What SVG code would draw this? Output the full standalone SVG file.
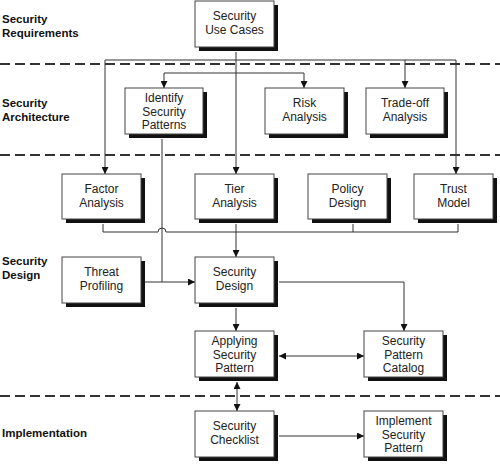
<svg xmlns="http://www.w3.org/2000/svg" width="500" height="464" viewBox="0 0 500 464">
<defs>
<style>
.sh{fill:#111}
.bx{fill:#fff;stroke:#444;stroke-width:1}
.t{font-family:"Liberation Sans",Arial,sans-serif;font-size:12px;fill:#222;text-anchor:middle}
.lb{font-family:"Liberation Sans",Arial,sans-serif;font-size:11.5px;font-weight:bold;fill:#111}
.dash{stroke:#333;stroke-width:2;stroke-dasharray:10 5;fill:none}
.c{stroke:#333;stroke-width:1;fill:none}
</style>
<marker id="a" viewBox="0 0 10 10" refX="10" refY="5" markerWidth="8" markerHeight="7" markerUnits="userSpaceOnUse" orient="auto-start-reverse">
<path d="M0,0 L10,5 L0,10 z" fill="#111"/>
</marker>
</defs>
<rect width="500" height="464" fill="#fff"/>
<g id="lanes">
<line class="dash" x1="0" y1="64" x2="500" y2="64"/>
<line class="dash" x1="0" y1="155" x2="500" y2="155"/>
<line class="dash" x1="0" y1="396" x2="500" y2="396"/>
<text class="lb" x="2" y="23">Security</text>
<text class="lb" x="2" y="37">Requirements</text>
<text class="lb" x="2" y="107">Security</text>
<text class="lb" x="2" y="121">Architecture</text>
<text class="lb" x="2" y="265">Security</text>
<text class="lb" x="2" y="279">Design</text>
<text class="lb" x="2" y="437">Implementation</text>
</g>
<g id="connectors">
<path class="c" d="M236,52 V174" marker-end="url(#a)"/>
<path class="c" d="M105,174 V60 H456 V174" marker-start="url(#a)" marker-end="url(#a)"/>
<path class="c" d="M405,60 V88" marker-end="url(#a)"/>
<path class="c" d="M164,88 V73 H304 V88" marker-start="url(#a)" marker-end="url(#a)"/>
<path class="c" d="M162,139 V282"/>
<path class="c" d="M145,282 H195" marker-end="url(#a)"/>
<path class="c" d="M103,224 V232 H158 A4,4 0 0 1 166,232 H458 V224"/>
<path class="c" d="M353,224 V232"/>
<path class="c" d="M236,224 V257" marker-end="url(#a)"/>
<path class="c" d="M279,282 H404 V331" marker-end="url(#a)"/>
<path class="c" d="M236,308 V331" marker-end="url(#a)"/>
<path class="c" d="M279,356 H364" marker-start="url(#a)" marker-end="url(#a)"/>
<path class="c" d="M237,382 V411" marker-start="url(#a)" marker-end="url(#a)"/>
<path class="c" d="M279,436 H364" marker-end="url(#a)"/>
</g>
<g id="n-usecases"><rect class="sh" x="199" y="5" width="79" height="46"/><rect class="bx" x="195" y="1" width="79" height="46"/><text class="t" x="234.5" y="20">Security</text><text class="t" x="234.5" y="34">Use Cases</text></g>
<g id="n-identify"><rect class="sh" x="129" y="92" width="78" height="46"/><rect class="bx" x="125" y="88" width="78" height="46"/><text class="t" x="164" y="102">Identify</text><text class="t" x="164" y="115.5">Security</text><text class="t" x="164" y="129">Patterns</text></g>
<g id="n-risk"><rect class="sh" x="269" y="92" width="79" height="46"/><rect class="bx" x="265" y="88" width="79" height="46"/><text class="t" x="304.5" y="107">Risk</text><text class="t" x="304.5" y="121">Analysis</text></g>
<g id="n-tradeoff"><rect class="sh" x="370" y="92" width="78" height="46"/><rect class="bx" x="366" y="88" width="78" height="46"/><text class="t" x="405" y="107">Trade-off</text><text class="t" x="405" y="121">Analysis</text></g>
<g id="n-factor"><rect class="sh" x="66" y="178" width="79" height="45"/><rect class="bx" x="62" y="174" width="79" height="45"/><text class="t" x="101.5" y="193">Factor</text><text class="t" x="101.5" y="207">Analysis</text></g>
<g id="n-tier"><rect class="sh" x="199" y="178" width="79" height="45"/><rect class="bx" x="195" y="174" width="79" height="45"/><text class="t" x="234.5" y="193">Tier</text><text class="t" x="234.5" y="207">Analysis</text></g>
<g id="n-policy"><rect class="sh" x="312" y="178" width="79" height="45"/><rect class="bx" x="308" y="174" width="79" height="45"/><text class="t" x="347.5" y="193">Policy</text><text class="t" x="347.5" y="207">Design</text></g>
<g id="n-trust"><rect class="sh" x="418" y="178" width="79" height="45"/><rect class="bx" x="414" y="174" width="79" height="45"/><text class="t" x="453.5" y="193">Trust</text><text class="t" x="453.5" y="207">Model</text></g>
<g id="n-threat"><rect class="sh" x="66" y="261" width="79" height="46"/><rect class="bx" x="62" y="257" width="79" height="46"/><text class="t" x="101.5" y="276">Threat</text><text class="t" x="101.5" y="290">Profiling</text></g>
<g id="n-secdesign"><rect class="sh" x="199" y="261" width="79" height="46"/><rect class="bx" x="195" y="257" width="79" height="46"/><text class="t" x="234.5" y="276">Security</text><text class="t" x="234.5" y="290">Design</text></g>
<g id="n-applying"><rect class="sh" x="199" y="335" width="79" height="46"/><rect class="bx" x="195" y="331" width="79" height="46"/><text class="t" x="234.5" y="345">Applying</text><text class="t" x="234.5" y="358.5">Security</text><text class="t" x="234.5" y="372">Pattern</text></g>
<g id="n-catalog"><rect class="sh" x="368" y="335" width="79" height="46"/><rect class="bx" x="364" y="331" width="79" height="46"/><text class="t" x="403.5" y="345">Security</text><text class="t" x="403.5" y="358.5">Pattern</text><text class="t" x="403.5" y="372">Catalog</text></g>
<g id="n-checklist"><rect class="sh" x="199" y="415" width="79" height="46"/><rect class="bx" x="195" y="411" width="79" height="46"/><text class="t" x="234.5" y="430">Security</text><text class="t" x="234.5" y="444">Checklist</text></g>
<g id="n-implement"><rect class="sh" x="368" y="415" width="79" height="46"/><rect class="bx" x="364" y="411" width="79" height="46"/><text class="t" x="403.5" y="425">Implement</text><text class="t" x="403.5" y="438.5">Security</text><text class="t" x="403.5" y="452">Pattern</text></g>
</svg>
